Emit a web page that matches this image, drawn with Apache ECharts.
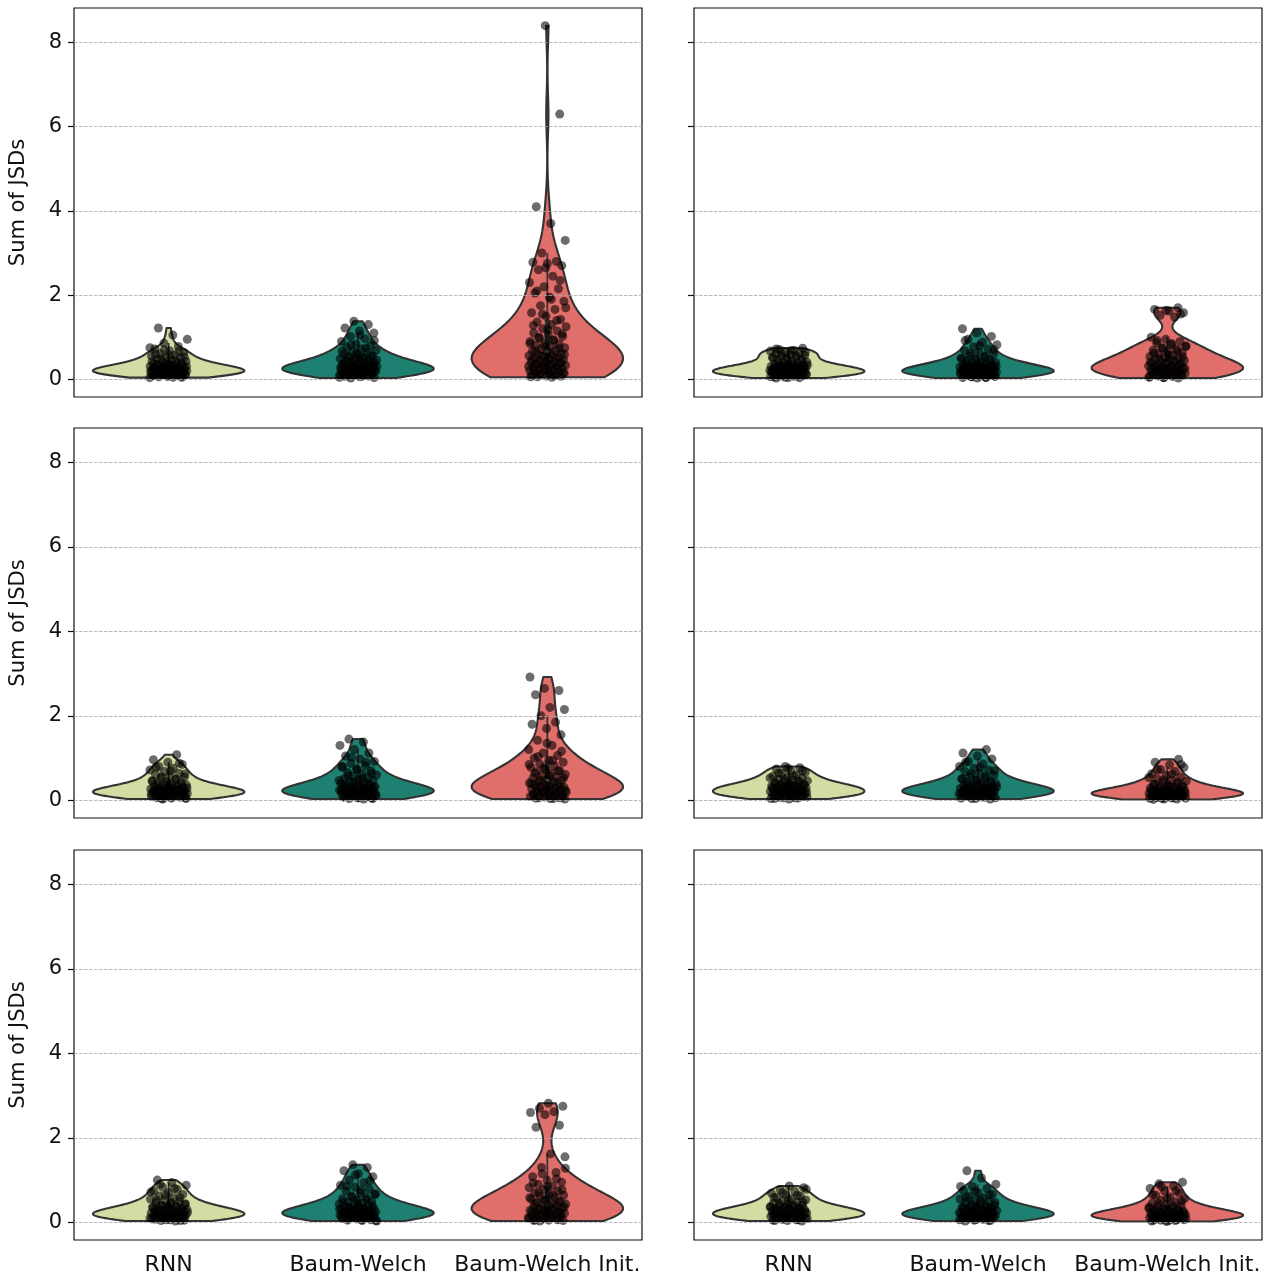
<!DOCTYPE html>
<html>
<head>
<meta charset="utf-8">
<script src="https://cdn.jsdelivr.net/npm/echarts@6/dist/echarts.min.js"></script>
<style>
html, body { margin: 0; padding: 0; background: #fff; }
#main { width: 1272px; height: 1279px; }
</style>
</head>
<body>
<div id="main"></div>
<script>
var categories = ['RNN', 'Baum-Welch', 'Baum-Welch Init.'];
var yTicks = [0, 2, 4, 6, 8];
var colors = ['#d5dca3', '#1d8070', '#e06e6a'];

// row 1 left
var rnnA = [0.04,0.05,0.06,0.07,0.08,0.09,0.1,0.11,0.11,0.12,0.13,0.14,0.14,0.15,0.16,0.16,0.17,0.18,0.18,0.19,0.2,0.2,0.21,0.22,0.22,0.23,0.24,0.25,0.25,0.26,0.27,0.28,0.29,0.3,0.31,0.32,0.33,0.34,0.36,0.37,0.39,0.41,0.43,0.45,0.47,0.5,0.52,0.55,0.58,0.61,0.64,0.68,0.72,0.78,0.86,0.95,1.05,1.22,
  0.05,0.07,0.09,0.1,0.12,0.13,0.15,0.16,0.17,0.19,0.2,0.21,0.23,0.24,0.26,0.27,0.28,0.3,0.31,0.33,0.35,0.38,0.4,0.42,0.46,0.49,0.53,0.57,0.6,0.66,0.7,0.75];
var bwA = [0.03,0.04,0.06,0.07,0.08,0.1,0.11,0.12,0.13,0.14,0.15,0.16,0.17,0.18,0.19,0.2,0.21,0.22,0.23,0.24,0.25,0.25,0.26,0.27,0.28,0.29,0.3,0.31,0.32,0.33,0.34,0.35,0.36,0.38,0.39,0.4,0.42,0.43,0.45,0.47,0.49,0.51,0.53,0.55,0.58,0.6,0.63,0.66,0.69,0.72,0.76,0.8,0.84,0.9,0.96,1.02,1.1,1.15,1.22,1.3,1.38,
  0.05,0.08,0.09,0.11,0.13,0.15,0.17,0.19,0.21,0.22,0.24,0.26,0.27,0.29,0.3,0.32,0.34,0.36,0.37,0.41,0.44,0.46,0.5,0.54,0.57,0.62,0.67,0.74,0.82,0.92,1.05];
var bwiA = [0.05,0.06,0.07,0.08,0.1,0.11,0.12,0.14,0.15,0.17,0.18,0.2,0.21,0.23,0.24,0.26,0.27,0.29,0.3,0.32,0.33,0.35,0.36,0.38,0.39,0.41,0.42,0.44,0.46,0.48,0.5,0.52,0.54,0.56,0.58,0.6,0.62,0.64,0.67,0.7,0.72,0.75,0.78,0.81,0.84,0.87,0.9,0.94,0.98,1.02,1.06,1.1,1.15,1.2,1.25,1.3,1.36,1.42,1.5,1.58,1.66,1.75,1.85,1.95,2.05,2.15,2.2,2.3,2.45,2.6,2.7,2.75,2.78,2.8,3.0,3.3,3.7,4.1,6.3,8.4,
  0.06,0.09,0.13,0.16,0.19,0.22,0.25,0.28,0.31,0.34,0.37,0.4,0.43,0.47,0.51,0.55,0.59,0.63,0.68,0.73,0.79,0.85,0.92,1.0,1.08,1.18,1.28,1.4,1.55,1.7,1.9,2.1,2.35,2.65];
// row 1 right
var rnnB = [0.03,0.04,0.05,0.06,0.07,0.08,0.09,0.1,0.1,0.11,0.12,0.13,0.13,0.14,0.15,0.15,0.16,0.17,0.17,0.18,0.19,0.19,0.2,0.2,0.21,0.22,0.22,0.23,0.24,0.24,0.25,0.26,0.27,0.27,0.28,0.29,0.3,0.31,0.32,0.33,0.34,0.35,0.36,0.38,0.39,0.41,0.43,0.45,0.47,0.49,0.51,0.53,0.55,0.57,0.59,0.61,0.63,0.65,0.67,0.69,0.71,0.74,
  0.04,0.06,0.08,0.09,0.11,0.12,0.14,0.16,0.18,0.19,0.21,0.23,0.25,0.26,0.28,0.3,0.32,0.34,0.37,0.4,0.44,0.48,0.52,0.56,0.6,0.64,0.68,0.72];
var bwB = [0.03,0.04,0.05,0.06,0.07,0.08,0.09,0.1,0.11,0.12,0.12,0.13,0.14,0.15,0.16,0.16,0.17,0.18,0.19,0.2,0.2,0.21,0.22,0.23,0.24,0.24,0.25,0.26,0.27,0.28,0.29,0.3,0.31,0.32,0.33,0.35,0.36,0.38,0.4,0.42,0.44,0.46,0.48,0.5,0.53,0.56,0.6,0.64,0.68,0.72,0.77,0.82,0.88,0.95,1.02,1.1,1.2,
  0.04,0.06,0.08,0.1,0.11,0.13,0.15,0.17,0.18,0.2,0.22,0.23,0.25,0.27,0.29,0.31,0.34,0.37,0.41,0.45,0.49,0.55,0.62,0.7,0.8,0.92];
var bwiB = [0.03,0.04,0.05,0.07,0.08,0.09,0.1,0.12,0.13,0.14,0.15,0.17,0.18,0.19,0.2,0.22,0.23,0.24,0.25,0.27,0.28,0.29,0.3,0.32,0.33,0.34,0.36,0.37,0.38,0.4,0.42,0.44,0.46,0.48,0.5,0.52,0.54,0.57,0.6,0.63,0.66,0.69,0.72,0.75,0.78,0.82,0.86,0.9,0.95,1.0,1.48,1.52,1.58,1.62,1.66,1.7,
  0.04,0.06,0.08,0.11,0.13,0.16,0.18,0.21,0.23,0.26,0.29,0.31,0.34,0.37,0.41,0.45,0.49,0.53,0.58,0.62,0.67,0.73,0.79,0.85,0.92,1.55,1.64];
// row 2 left
var rnnC = [0.03,0.04,0.05,0.06,0.07,0.08,0.09,0.1,0.11,0.12,0.13,0.13,0.14,0.15,0.16,0.17,0.18,0.18,0.19,0.2,0.21,0.22,0.22,0.23,0.24,0.25,0.26,0.27,0.28,0.29,0.3,0.31,0.32,0.33,0.35,0.36,0.38,0.4,0.42,0.44,0.46,0.49,0.52,0.55,0.58,0.61,0.64,0.68,0.72,0.76,0.8,0.85,0.9,0.96,1.08,
  0.04,0.06,0.08,0.1,0.12,0.14,0.15,0.17,0.19,0.2,0.22,0.24,0.25,0.27,0.29,0.31,0.34,0.37,0.41,0.45,0.5,0.56,0.62,0.7,0.78,0.88];
var bwC = [0.03,0.04,0.05,0.06,0.08,0.09,0.1,0.11,0.12,0.13,0.14,0.15,0.16,0.17,0.18,0.19,0.2,0.21,0.22,0.23,0.24,0.25,0.26,0.27,0.28,0.29,0.3,0.31,0.32,0.33,0.35,0.36,0.38,0.4,0.42,0.44,0.46,0.48,0.51,0.54,0.57,0.6,0.63,0.66,0.7,0.74,0.78,0.82,0.87,0.92,0.98,1.05,1.12,1.2,1.3,1.38,1.45,
  0.04,0.06,0.08,0.1,0.12,0.14,0.16,0.18,0.2,0.22,0.24,0.26,0.28,0.3,0.33,0.36,0.39,0.43,0.47,0.52,0.58,0.64,0.72,0.8,0.9,1.02];
var bwiC = [0.03,0.04,0.05,0.06,0.08,0.09,0.1,0.11,0.13,0.14,0.15,0.17,0.18,0.19,0.21,0.22,0.24,0.25,0.27,0.28,0.3,0.31,0.33,0.35,0.37,0.39,0.41,0.43,0.45,0.47,0.5,0.52,0.55,0.58,0.61,0.64,0.67,0.7,0.74,0.78,0.82,0.86,0.9,0.95,1.0,1.06,1.12,1.2,1.3,1.42,1.55,1.7,1.8,1.85,2.0,2.15,2.2,2.5,2.6,2.65,2.92,
  0.04,0.06,0.08,0.11,0.14,0.17,0.2,0.23,0.26,0.29,0.32,0.36,0.4,0.44,0.48,0.53,0.58,0.64,0.7,0.77,0.85,0.94,1.04,1.16,1.35];
// row 2 right
var rnnD = [0.03,0.04,0.05,0.06,0.08,0.09,0.1,0.11,0.12,0.13,0.14,0.15,0.16,0.17,0.18,0.19,0.2,0.21,0.22,0.23,0.24,0.25,0.26,0.27,0.28,0.29,0.3,0.31,0.32,0.33,0.34,0.35,0.36,0.37,0.39,0.4,0.42,0.44,0.46,0.48,0.5,0.52,0.54,0.57,0.6,0.63,0.66,0.7,0.74,0.77,0.8,
  0.04,0.06,0.07,0.09,0.11,0.13,0.15,0.17,0.19,0.21,0.23,0.25,0.27,0.29,0.31,0.33,0.36,0.38,0.41,0.45,0.49,0.53,0.58,0.64,0.7,0.76];
var bwD = [0.03,0.04,0.05,0.07,0.08,0.09,0.1,0.12,0.13,0.14,0.15,0.16,0.17,0.18,0.19,0.2,0.21,0.22,0.23,0.24,0.25,0.26,0.27,0.28,0.29,0.3,0.31,0.33,0.34,0.36,0.37,0.39,0.41,0.43,0.45,0.48,0.5,0.53,0.56,0.6,0.64,0.68,0.72,0.76,0.8,0.86,0.92,0.98,1.05,1.12,1.2,
  0.04,0.06,0.08,0.1,0.12,0.14,0.16,0.18,0.2,0.22,0.24,0.26,0.28,0.3,0.32,0.35,0.38,0.42,0.46,0.51,0.57,0.63,0.7,0.78,0.9];
var bwiD = [0.02,0.03,0.04,0.05,0.06,0.07,0.08,0.09,0.1,0.1,0.11,0.12,0.13,0.14,0.14,0.15,0.16,0.17,0.17,0.18,0.19,0.2,0.21,0.22,0.23,0.24,0.25,0.26,0.27,0.29,0.3,0.32,0.34,0.36,0.38,0.4,0.42,0.45,0.48,0.51,0.55,0.59,0.63,0.68,0.73,0.78,0.84,0.9,0.97,
  0.03,0.05,0.06,0.08,0.09,0.11,0.12,0.13,0.15,0.16,0.18,0.19,0.2,0.22,0.24,0.26,0.28,0.31,0.34,0.38,0.43,0.48,0.54,0.62,0.72,0.85];
// row 3 left
var rnnE = [0.03,0.04,0.05,0.06,0.07,0.08,0.09,0.1,0.11,0.12,0.13,0.14,0.15,0.16,0.16,0.17,0.18,0.19,0.2,0.21,0.22,0.23,0.24,0.25,0.26,0.27,0.28,0.29,0.3,0.31,0.32,0.33,0.35,0.36,0.38,0.4,0.42,0.44,0.46,0.49,0.52,0.55,0.58,0.62,0.66,0.7,0.74,0.78,0.83,0.88,0.94,1.0,
  0.04,0.06,0.08,0.09,0.11,0.13,0.15,0.17,0.19,0.21,0.23,0.25,0.27,0.29,0.31,0.34,0.37,0.4,0.44,0.48,0.53,0.58,0.64,0.72,0.8,0.9];
var bwE = [0.03,0.04,0.05,0.06,0.08,0.09,0.1,0.11,0.12,0.13,0.14,0.15,0.16,0.17,0.18,0.19,0.2,0.21,0.22,0.23,0.24,0.25,0.26,0.27,0.28,0.29,0.3,0.31,0.32,0.34,0.35,0.37,0.39,0.41,0.43,0.45,0.47,0.5,0.53,0.56,0.59,0.62,0.66,0.7,0.74,0.78,0.83,0.88,0.94,1.0,1.08,1.15,1.22,1.3,1.36,
  0.04,0.06,0.08,0.1,0.12,0.14,0.16,0.18,0.2,0.22,0.24,0.26,0.28,0.31,0.33,0.36,0.4,0.44,0.48,0.54,0.6,0.67,0.76,0.86,0.98,1.12];
var bwiE = [0.03,0.04,0.05,0.06,0.08,0.09,0.1,0.11,0.13,0.14,0.15,0.17,0.18,0.19,0.21,0.22,0.24,0.25,0.27,0.28,0.3,0.31,0.33,0.35,0.37,0.39,0.41,0.43,0.45,0.47,0.5,0.52,0.55,0.58,0.61,0.64,0.67,0.7,0.74,0.78,0.82,0.86,0.9,0.95,1.0,1.08,1.18,1.3,1.55,1.62,2.25,2.3,2.55,2.6,2.62,2.7,2.75,2.82,
  0.04,0.06,0.08,0.11,0.14,0.17,0.2,0.23,0.26,0.29,0.32,0.36,0.4,0.44,0.48,0.53,0.58,0.64,0.7,0.77,0.85,0.93,1.03,1.15,1.28];
// row 3 right
var rnnF = [0.03,0.04,0.05,0.06,0.07,0.09,0.1,0.11,0.12,0.13,0.14,0.15,0.16,0.17,0.18,0.19,0.2,0.21,0.22,0.23,0.24,0.25,0.26,0.27,0.28,0.29,0.3,0.31,0.32,0.33,0.34,0.36,0.37,0.39,0.41,0.43,0.45,0.47,0.5,0.53,0.56,0.59,0.62,0.65,0.69,0.73,0.77,0.82,0.86,
  0.04,0.06,0.08,0.09,0.11,0.13,0.15,0.17,0.19,0.21,0.23,0.25,0.27,0.29,0.31,0.34,0.37,0.4,0.44,0.48,0.53,0.58,0.64,0.7,0.78];
var bwF = [0.03,0.04,0.05,0.06,0.07,0.08,0.1,0.11,0.12,0.13,0.14,0.15,0.16,0.17,0.18,0.19,0.2,0.21,0.22,0.23,0.24,0.25,0.26,0.27,0.28,0.29,0.3,0.32,0.33,0.35,0.37,0.39,0.41,0.43,0.46,0.49,0.52,0.55,0.58,0.62,0.66,0.7,0.75,0.8,0.85,0.9,1.05,1.22,
  0.04,0.06,0.08,0.09,0.11,0.13,0.15,0.17,0.19,0.21,0.23,0.25,0.27,0.3,0.32,0.35,0.38,0.42,0.47,0.52,0.58,0.65,0.74,0.85];
var bwiF = [0.02,0.03,0.04,0.05,0.06,0.07,0.08,0.09,0.1,0.11,0.12,0.12,0.13,0.14,0.15,0.16,0.17,0.18,0.19,0.2,0.21,0.22,0.23,0.24,0.25,0.26,0.27,0.28,0.3,0.31,0.33,0.35,0.37,0.39,0.42,0.45,0.48,0.52,0.56,0.6,0.64,0.69,0.74,0.8,0.86,0.91,0.95,
  0.03,0.05,0.06,0.08,0.09,0.11,0.12,0.14,0.15,0.17,0.18,0.2,0.22,0.24,0.26,0.29,0.32,0.36,0.4,0.45,0.5,0.57,0.65,0.75,0.84];

var panels = [
  [rnnA, bwA, bwiA], [rnnB, bwB, bwiB],
  [rnnC, bwC, bwiC], [rnnD, bwD, bwiD],
  [rnnE, bwE, bwiE], [rnnF, bwF, bwiF]
];

// gaussian kde, scott bandwidth, cut at data range, scaled to max = 1
function kdeProfile(vals) {
  var n = vals.length;
  var mean = vals.reduce(function (a, b) { return a + b; }, 0) / n;
  var sd = Math.sqrt(vals.reduce(function (a, b) { return a + (b - mean) * (b - mean); }, 0) / (n - 1));
  var bw = sd * Math.pow(n, -0.2);
  var lo = Math.min.apply(null, vals), hi = Math.max.apply(null, vals);
  var out = [], maxd = 0;
  for (var i = 0; i < 100; i++) {
    var y = lo + (hi - lo) * i / 99, d = 0;
    vals.forEach(function (v) { var z = (y - v) / bw; d += Math.exp(-0.5 * z * z); });
    out.push([y, d]);
    if (d > maxd) maxd = d;
  }
  out.forEach(function (p) { p[1] /= maxd; });
  return out;
}

function pct(sorted, q) {
  var pos = (sorted.length - 1) * q, i = Math.floor(pos), f = pos - i;
  return i + 1 < sorted.length ? sorted[i] + f * (sorted[i + 1] - sorted[i]) : sorted[i];
}

function boxStats(vals) {
  var s = vals.slice().sort(function (a, b) { return a - b; });
  var q1 = pct(s, 0.25), q3 = pct(s, 0.75), iqr = q3 - q1;
  var lo = s.filter(function (v) { return v >= q1 - 1.5 * iqr; })[0];
  var hiArr = s.filter(function (v) { return v <= q3 + 1.5 * iqr; });
  return { q1: q1, med: pct(s, 0.5), q3: q3, lo: lo, hi: hiArr[hiArr.length - 1] };
}

var profiles = panels.map(function (p) { return p.map(kdeProfile); });
var stats = panels.map(function (p) { return p.map(boxStats); });

var lefts = [74, 694];
var tops = [8, 428, 850];
var heights = [389, 390, 390];
var ink = '#111111';
var edge = '#333333';

var grids = [], xAxes = [], yAxes = [], series = [];

panels.forEach(function (groups, p) {
  var col = p % 2, row = Math.floor(p / 2);
  var bottomRow = row === 2;
  grids.push({
    left: lefts[col], top: tops[row], width: 568, height: heights[row],
    show: true, borderColor: ink, borderWidth: 1.2, backgroundColor: 'transparent'
  });
  xAxes.push({
    type: 'category', gridIndex: p, data: categories,
    axisLine: { show: false, onZero: false },
    axisTick: { alignWithLabel: true, length: 6, lineStyle: { color: ink, width: 1.2 } },
    axisLabel: { show: bottomRow, interval: 0, fontSize: 22, color: ink, margin: 14, fontFamily: 'DejaVu Sans' },
    splitLine: { show: false }
  });
  xAxes.push({
    type: 'value', gridIndex: p, min: -0.5, max: 2.5, show: false,
    axisLine: { onZero: false }
  });
  yAxes.push({
    type: 'value', gridIndex: p, min: -0.42, max: 8.82,
    name: col === 0 ? 'Sum of JSDs' : '',
    nameLocation: 'middle', nameGap: 45, nameRotate: 90,
    nameTextStyle: { fontSize: 21, color: ink, fontFamily: 'DejaVu Sans' },
    axisLine: { show: false, onZero: false },
    axisTick: { show: true, length: 6, customValues: yTicks, lineStyle: { color: ink, width: 1.2 } },
    axisLabel: { show: col === 0, customValues: yTicks, fontSize: 21, color: ink, margin: 12, fontFamily: 'DejaVu Sans' },
    splitLine: { show: false }
  });

  series.push({
    type: 'custom',
    xAxisIndex: 2 * p, yAxisIndex: p,
    data: groups.map(function (g, c) { return [c, stats[p][c].med]; }),
    encode: { x: 0, y: 1 },
    silent: true,
    renderItem: function (params, api) {
      var c = api.value(0);
      var prof = profiles[p][c];
      var band = api.size([1, 0])[0];
      var right = [], left = [];
      prof.forEach(function (q) {
        var pt = api.coord([c, q[0]]);
        right.push([pt[0] + q[1] * 0.4 * band, pt[1]]);
        left.push([pt[0] - q[1] * 0.4 * band, pt[1]]);
      });
      var st = stats[p][c];
      var hi = api.coord([c, st.hi]), lo = api.coord([c, st.lo]);
      var q1 = api.coord([c, st.q1]), q3 = api.coord([c, st.q3]), med = api.coord([c, st.med]);
      return {
        type: 'group',
        children: [
          { type: 'polygon', shape: { points: right.concat(left.reverse()) },
            style: { fill: colors[c], stroke: edge, lineWidth: 2.1, lineJoin: 'round' } },
          { type: 'line', shape: { x1: lo[0], y1: lo[1], x2: hi[0], y2: hi[1] },
            style: { stroke: edge, lineWidth: 1.8 } },
          { type: 'line', shape: { x1: q1[0], y1: q1[1], x2: q3[0], y2: q3[1] },
            style: { stroke: edge, lineWidth: 5 } },
          { type: 'circle', shape: { cx: med[0], cy: med[1], r: 2.2 },
            style: { fill: '#ffffff' } }
        ]
      };
    }
  });

  var pts = [];
  groups.forEach(function (g, c) {
    g.forEach(function (v, i) {
      var j = ((i * 0.6180339887 + c * 0.31 + p * 0.17) % 1) * 0.2 - 0.1;
      pts.push([c + j, v]);
    });
  });
  series.push({
    type: 'scatter',
    xAxisIndex: 2 * p + 1, yAxisIndex: p,
    data: pts,
    symbolSize: 9,
    itemStyle: { color: 'rgba(0,0,0,0.72)' },
    silent: true,
    markLine: {
      silent: true, symbol: ['none', 'none'], label: { show: false },
      lineStyle: { color: '#a8a8a8', width: 0.8, type: [3.5, 1.5] },
      data: yTicks.map(function (v) { return { yAxis: v }; })
    }
  });
});

var chart = echarts.init(document.getElementById('main'));
chart.setOption({
  animation: false,
  backgroundColor: '#ffffff',
  grid: grids,
  xAxis: xAxes,
  yAxis: yAxes,
  series: series
});
</script>
</body>
</html>
